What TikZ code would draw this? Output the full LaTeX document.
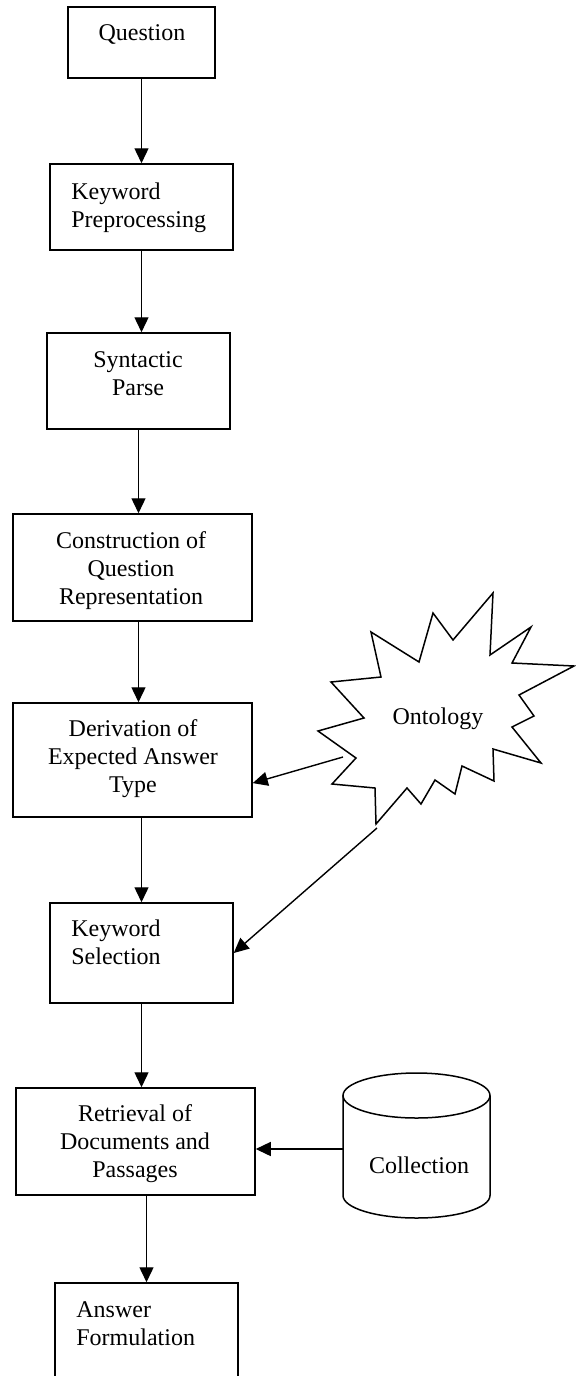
\documentclass[tikz,border=0pt]{standalone}
\usepackage{fontspec}
\setmainfont{Liberation Serif}
\usetikzlibrary{arrows.meta,fit,calc}

\tikzset{
    stepbox/.style={draw, line width=0.75pt, inner sep=0pt},
    txt/.style={inner sep=0pt, font=\fontsize{12}{14}\selectfont},
    flow/.style={line width=0.7pt, -{Triangle[length=7.5pt,width=7pt]}},
}

\begin{document}
\begin{tikzpicture}[x=0.5pt, y=-0.5pt]
    \useasboundingbox (0,0) rectangle (576,1376);

    % steps of the pipeline
    \node[stepbox, fit={(68,7) (215,78)}] (qu) {};
    \node[txt, anchor=north] (qu-t) at (142,24) {Question};
    \node[stepbox, fit={(50,164) (233,250)}] (kp) {};
    \node[txt, anchor=north west, align=left] (kp-t) at (71,182) {Keyword\\Preprocessing};
    \node[stepbox, fit={(47,333) (230,429)}] (sp) {};
    \node[txt, anchor=north, align=center] (sp-t) at (138,351) {Syntactic\\Parse};
    \node[stepbox, fit={(13,514) (252,621)}] (cq) {};
    \node[txt, anchor=north, align=center] (cq-t) at (131,531) {Construction of\\Question\\Representation};
    \node[stepbox, fit={(13,703) (252,817)}] (der) {};
    \node[txt, anchor=north, align=center] (der-t) at (133,719) {Derivation of\\Expected Answer\\Type};
    \node[stepbox, fit={(50,903) (233,1003)}] (ks) {};
    \node[txt, anchor=north west, align=left] (ks-t) at (71,919) {Keyword\\Selection};
    \node[stepbox, fit={(16,1088) (255,1195)}] (ret) {};
    \node[txt, anchor=north, align=center] (ret-t) at (135,1104) {Retrieval of\\Documents and\\Passages};
    \node[stepbox, fit={(55,1283) (238,1400)}] (ans) {};
    \node[txt, anchor=north west, align=left] (ans-t) at (76,1301) {Answer\\Formulation};

    % ontology burst
    \draw[line width=0.75pt, line join=miter] (371,632) -- (419,662) -- (433,613) -- (453,640) -- (493,593) -- (490,655)
        -- (531,627) -- (512,663) -- (574,666) -- (519,695) -- (534,716) -- (512,727) -- (541,763)
        -- (493,749) -- (494,781) -- (462,766) -- (455,794) -- (435,780) -- (421,804) -- (407,788)
        -- (376,824) -- (375,788) -- (332,784) -- (356,758) -- (318,731) -- (364,718) -- (331,682)
        -- (381,677) -- cycle;
    \node[txt] (onto) at (438,719) {Ontology};
    \coordinate (onto-a) at (343,757);
    \coordinate (onto-b) at (377,828);

    % collection store
    \draw[line width=0.75pt] (416.5,1095.5) ellipse [x radius=73.5, y radius=22.5];
    \draw[line width=0.75pt] (343,1095.5) -- (343,1195.5) arc [start angle=180, end angle=0, x radius=73.5, y radius=22.5] -- (490,1095.5);
    \node[txt] (coll) at (419,1165) {Collection};
    \coordinate (coll-w) at (343,1149);

    % connectors
    \draw[flow] (qu) -- (kp);
    \draw[flow] (kp) -- (kp |- sp.north);
    \draw[flow] (sp) -- (sp |- cq.north);
    \draw[flow] (cq.south -| sp) -- (der.north -| sp);
    \draw[flow] (der.south -| ks) -- (ks);
    \draw[flow] (ks) -- (ks |- ret.north);
    \draw[flow] (ret.south -| ans) -- (ans);
    \draw[flow] (onto-a) -- ($(der.east)!0.4!(der.south east)$);
    \draw[flow] (onto-b) -- (ks.east);
    \draw[flow] (coll-w) -- (coll-w -| ret.east);
\end{tikzpicture}
\end{document}
